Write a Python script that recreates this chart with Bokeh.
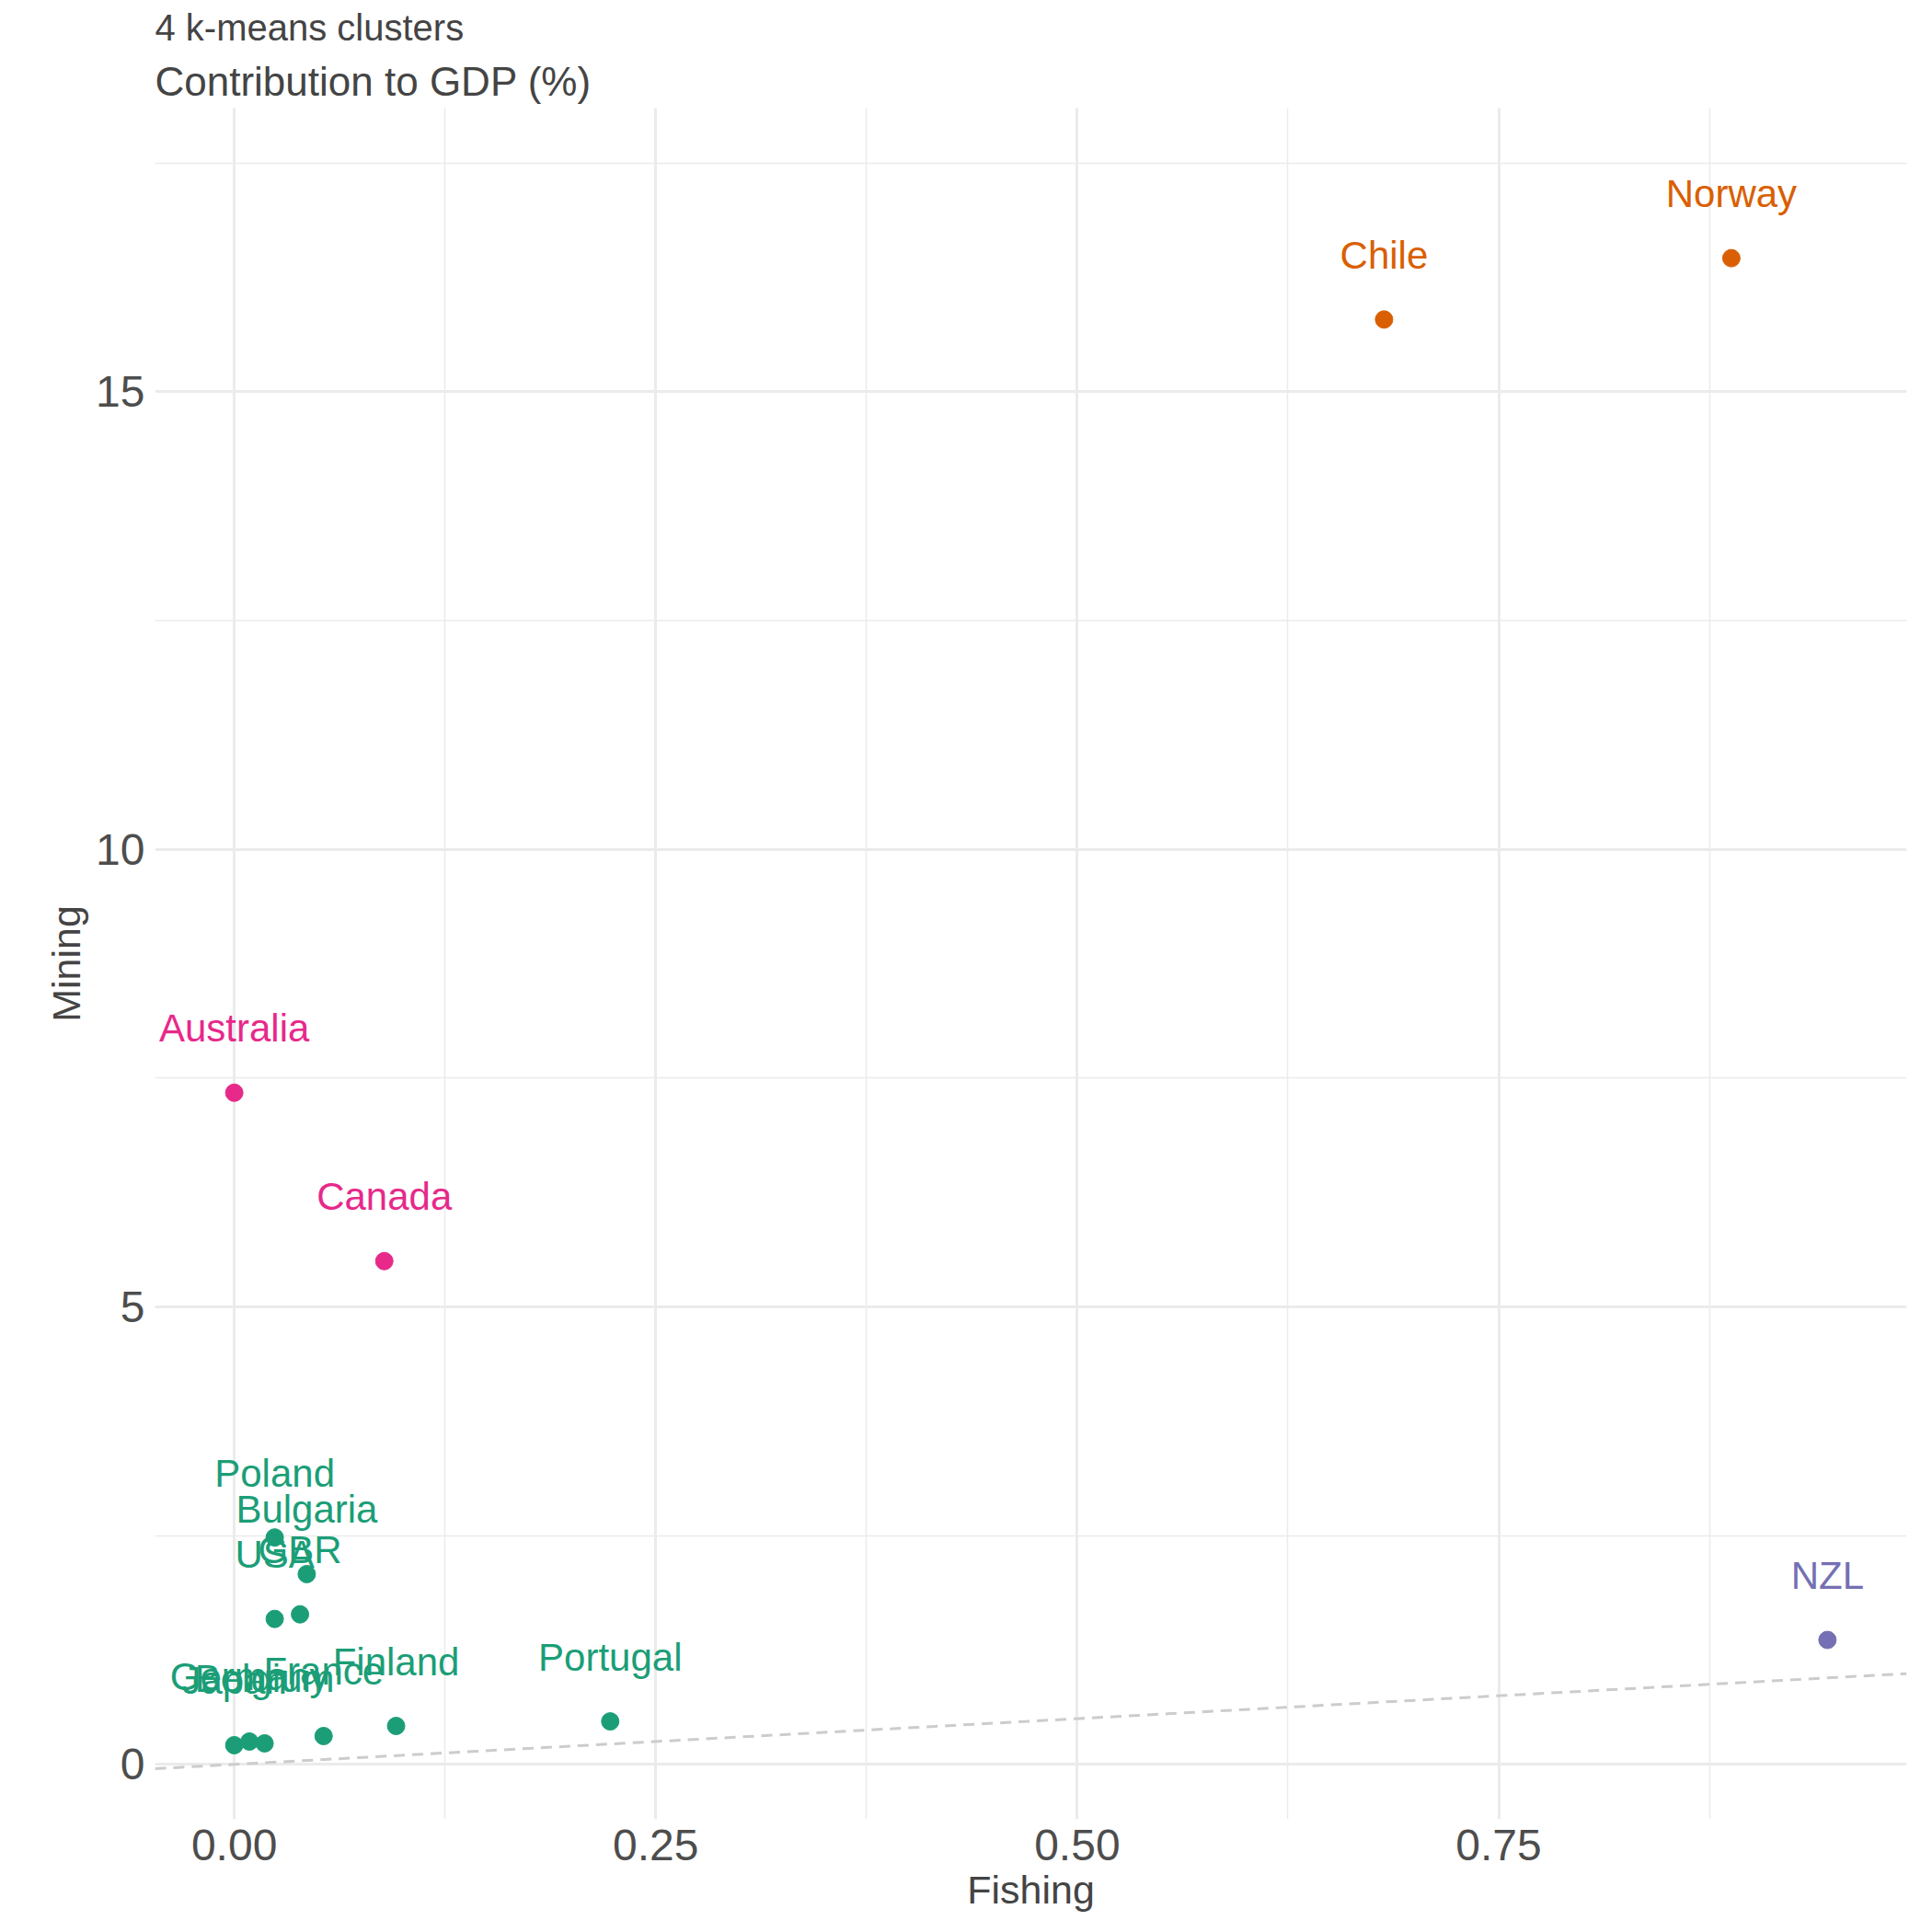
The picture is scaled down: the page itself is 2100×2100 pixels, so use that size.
from bokeh.plotting import figure
from bokeh.models import ColumnDataSource, Title, FixedTicker, Range1d
from bokeh.core.properties import value
from bokeh.embed import file_html
from bokeh.resources import INLINE

countries = ["Norway","Chile","Australia","Canada","NZL","Portugal","Finland","France",
             "Poland","Bulgaria","GBR","USA","Germany","Japan","Belgium"]
fishing = [0.888,0.682,0.0,0.089,0.945,0.223,0.096,0.053,0.024,0.043,0.039,0.024,0.009,0.0,0.018]
mining = [16.46,15.79,7.34,5.50,1.36,0.47,0.42,0.31,2.48,2.08,1.64,1.59,0.25,0.21,0.23]
cluster = ["b","b","d","d","c","a","a","a","a","a","a","a","a","a","a"]
palette = {"a":"#1B9E77","b":"#D95F02","c":"#7570B3","d":"#E7298A"}
colors = [palette[c] for c in cluster]
line_x = [-0.047, 0.992]

FONT = "Liberation Sans"
p = figure(width=2080, height=2080, output_backend="svg", toolbar_location=None,
           title="4 k-means clusters",
           x_range=Range1d(-0.047, 0.992), y_range=Range1d(-0.6, 18.1),
           min_border_left=168, min_border_right=8, min_border_top=20, min_border_bottom=100)
p.title.text_font = FONT; p.title.text_font_size = "40px"; p.title.text_font_style = "normal"
p.add_layout(Title(text="Contribution to GDP (%)", text_font=FONT, text_font_size="44px",
                   text_font_style="normal"), "above")
p.outline_line_color = None
p.line(line_x, line_x, line_color="#CCCCCC", line_dash="12 8", line_width=3)
src = ColumnDataSource(dict(x=fishing, y=mining, t=countries, c=colors))
p.scatter("x", "y", source=src, size=19, color="c")
p.text("x", "y", text="t", source=src, text_color="c", y_offset=-70, text_align="center",
       text_baseline="middle", text_font=value(FONT), text_font_size="42px")

p.xaxis.ticker = FixedTicker(ticks=[0, 0.25, 0.5, 0.75], minor_ticks=[0.125, 0.375, 0.625, 0.875])
p.yaxis.ticker = FixedTicker(ticks=[0, 5, 10, 15], minor_ticks=[2.5, 7.5, 12.5, 17.5])
p.xaxis.major_label_overrides = {0: "0.00", 0.25: "0.25", 0.5: "0.50", 0.75: "0.75"}
for ax in (p.xaxis, p.yaxis):
    ax.axis_line_color = None
    ax.major_tick_line_color = None
    ax.minor_tick_line_color = None
    ax.major_label_text_font = FONT
    ax.major_label_text_font_size = "48px"
    ax.major_label_text_color = "#4D4D4D"
    ax.axis_label_text_font = FONT
    ax.axis_label_text_font_size = "43px"
    ax.axis_label_text_font_style = "normal"
p.xaxis.axis_label = "Fishing"
p.yaxis.axis_label = "Mining"
for g in (p.xgrid, p.ygrid):
    g.grid_line_color = "#EBEBEB"; g.grid_line_width = 3
    g.minor_grid_line_color = "#EBEBEB"; g.minor_grid_line_width = 1.5

open("out.html", "w").write(file_html(p, INLINE))
